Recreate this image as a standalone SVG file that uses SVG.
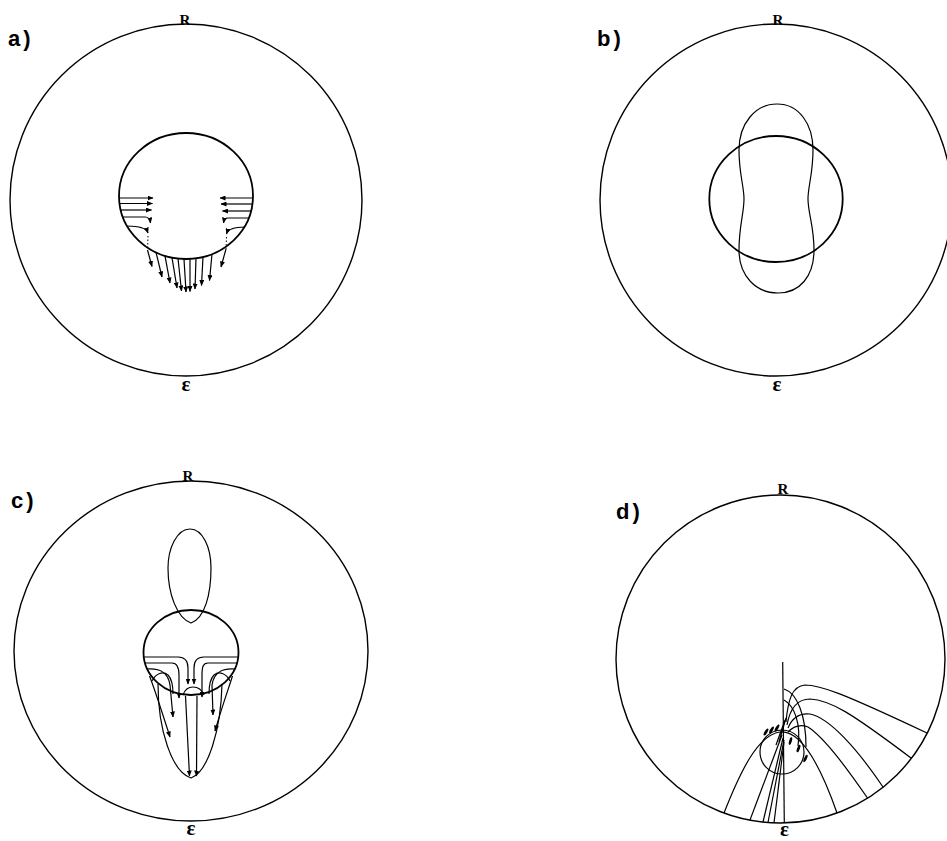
<svg xmlns="http://www.w3.org/2000/svg" width="947" height="841" viewBox="0 0 947 841">
<defs>
<marker id="ah" markerUnits="userSpaceOnUse" markerWidth="6" markerHeight="5" refX="5.5" refY="2.5" orient="auto">
<path d="M0,0 L6,2.5 L0,5 z" fill="#000"/>
</marker>
</defs>
<style>
.outer{fill:none;stroke:#000;stroke-width:1.4}
.inner{fill:none;stroke:#000;stroke-width:1.8}
.thin{fill:none;stroke:#000;stroke-width:1.2}
.flow{fill:none;stroke:#000;stroke-width:1.2;marker-end:url(#ah)}
.line{fill:none;stroke:#000;stroke-width:1.2}
.dot{fill:none;stroke:#000;stroke-width:1;stroke-dasharray:1.5 2}
.lab{font-family:"Liberation Sans",Arial,sans-serif;font-weight:bold;font-size:22px;letter-spacing:3px}
.r{font-family:"Liberation Serif","Times New Roman",serif;font-weight:bold;font-size:15px;text-anchor:middle}
.e{font-family:"Liberation Serif","Times New Roman",serif;font-weight:bold;font-size:21px;text-anchor:middle}
.leaf{fill:#000}
</style>
<rect width="947" height="841" fill="#fff"/>

<!-- Panel a -->
<g id="panel-a">
<text class="lab" x="8" y="46">a)</text>
<circle class="outer" cx="186" cy="200" r="176"/>
<text class="r" x="185" y="25">R</text>
<text class="e" x="186" y="391">ε</text>
<ellipse class="inner" cx="186" cy="196" rx="67" ry="63"/>
</g>
<g id="connectors-a">
<path class="flow" d="M119,198 L153,198"/>
<path class="flow" d="M119.5,203.5 L152.5,203.5"/>
<path class="flow" d="M120.7,210 L151.5,210"/>
<path class="flow" d="M122.8,217 L145,217 C149,217 150,219 150.5,223"/>
<path class="flow" d="M127.1,226 C137,226 146,227 148,233"/>
<path class="flow" d="M253,198 L220,198"/>
<path class="flow" d="M252.5,204 L221,204"/>
<path class="flow" d="M251.3,211 L222.5,211"/>
<path class="flow" d="M249.2,218 L228,218 C225,218 224,220 223.5,223"/>
<path class="flow" d="M245,227 C235,227 228,229 226.5,234"/>
<path class="dot" d="M148,236 L147.5,250"/>
<path class="flow" d="M147.5,250 L152,266.5"/>
<path class="dot" d="M226.5,237 L226,249"/>
<path class="flow" d="M226,249 L221,267"/>
<path class="flow" d="M156,252.3 L162,277"/>
<path class="flow" d="M165,255.8 L170,283"/>
<path class="flow" d="M172,257.6 L177,288"/>
<path class="flow" d="M178,258.5 L181.5,291"/>
<path class="flow" d="M184,259 L186,292"/>
<path class="flow" d="M190,258.9 L190,291.5"/>
<path class="flow" d="M196,258.3 L195,289"/>
<path class="flow" d="M203,256.9 L201.5,285.5"/>
<path class="flow" d="M212,254 L209.5,280.5"/>
</g>

<!-- Panel b -->
<g id="panel-b">
<text class="lab" x="597" y="46">b)</text>
<circle class="outer" cx="776" cy="200" r="176"/>
<text class="r" x="778" y="25">R</text>
<text class="e" x="777" y="391">ε</text>
<ellipse class="inner" cx="776" cy="199" rx="66.7" ry="63"/>
<path class="thin" d="M777,104 C799,104 813,124 813,150 C813,174 808,186 808,199 C808,213 814,226 814,250 C814,276 800,293 778,293 C756,293 739,276 739,250 C739,226 744,213 744,199 C744,186 739,174 739,150 C739,124 755,104 777,104 Z"/>
</g>

<!-- Panel c -->
<g id="panel-c">
<text class="lab" x="11" y="508">c)</text>
<ellipse class="outer" cx="191" cy="651" rx="177" ry="170"/>
<text class="r" x="188" y="481">R</text>
<text class="e" x="191" y="835">ε</text>
<ellipse class="inner" cx="191" cy="652.5" rx="47.5" ry="42.5"/>
<path class="thin" d="M190,529 C203,529 211,548 211,568 C211,594 205,618 191,623 C177,618 168,594 168,568 C168,548 177,529 190,529 Z"/>
<path class="thin" d="M158,684 C158,730 172,772 191,778 C208,772 221,730 222,684"/>
<path class="thin" d="M183,695 C185,689 189,687 193,687 C198,687 202,690 204,695"/>
</g>
<g id="connectors-c">
<path class="flow" d="M143.8,657 L178,657 C185,657 188,661 188,668 L188,684"/>
<path class="flow" d="M238.2,657 L204,657 C197,657 194,661 194,668 L194,684"/>
<path class="flow" d="M145,663 L172,663 C177,663 179,667 179,675 L179,698"/>
<path class="flow" d="M237,663 L208,663 C203,663 202,667 202,675 L202,697"/>
<path class="flow" d="M146.7,669 C160,668 168,672 170,685 L173,717"/>
<path class="flow" d="M235.3,669 C222,668 214,672 212,685 L213,715"/>
<path class="flow" d="M149.5,676 C155,690 162,712 170,737"/>
<path class="flow" d="M232.5,676 C228,690 221,710 215,731"/>
<path class="line" d="M152,681 C156,673 163,671 168,675 C172,679 173,688 173,694"/>
<path class="line" d="M230,681 C226,673 219,671 214,675 C210,679 209,688 209,694"/>
<path class="flow" d="M185.5,696 L189.5,776"/>
<path class="flow" d="M197,696 L196.5,776"/>
</g>

<!-- Panel d -->
<g id="panel-d">
<text class="lab" x="616" y="519">d)</text>
<ellipse class="outer" cx="780.5" cy="659" rx="164.5" ry="164"/>
<text class="r" x="783" y="494">R</text>
<text class="e" x="784.5" y="836">ε</text>
<path class="thin" d="M782.7,662 L784.3,823"/>
<circle class="thin" cx="782" cy="752" r="22"/>
<path class="thin" d="M784,689 C797,693 806,715 806,747"/>
<path class="thin" d="M784,700 C795,706 801,725 798,746"/>
<ellipse class="leaf" cx="766" cy="732" rx="1.4" ry="4" transform="rotate(30 766 732)"/>
<ellipse class="leaf" cx="771.5" cy="730" rx="1.4" ry="4" transform="rotate(30 771.5 730)"/>
<ellipse class="leaf" cx="777" cy="728" rx="1.4" ry="4" transform="rotate(30 777 728)"/>
<ellipse class="leaf" cx="790.5" cy="741" rx="1.4" ry="4" transform="rotate(15 790.5 741)"/>
<ellipse class="leaf" cx="798.5" cy="748.5" rx="1.4" ry="4" transform="rotate(20 798.5 748.5)"/>
<ellipse class="leaf" cx="805.5" cy="758.5" rx="1.4" ry="4" transform="rotate(25 805.5 758.5)"/>
</g>
<g id="connectors-d">
<path class="line" d="M786,722 C788,700 792,686 805,685 C820,685 840,692 927,733"/>
<path class="line" d="M787,725 C790,708 797,699 810,699 C830,700 850,712 911,758"/>
<path class="line" d="M788,728 C792,718 800,713 810,714 C830,718 858,750 883,787"/>
<path class="line" d="M788,732 C794,726 800,724 808,727 C825,738 848,770 867.5,798"/>
<path class="line" d="M724,813 C741,770 758,735 780,732 C802,730 822,770 837,813"/>
<path class="line" d="M782,735 L750,820"/>
<path class="line" d="M783,738 L763,822"/>
<path class="line" d="M784,740 L768,822.5"/>
<path class="line" d="M784,742 L774,823"/>
<path class="line" d="M785,720 L776,745 M786,718 L779,742"/>
</g>
</svg>
